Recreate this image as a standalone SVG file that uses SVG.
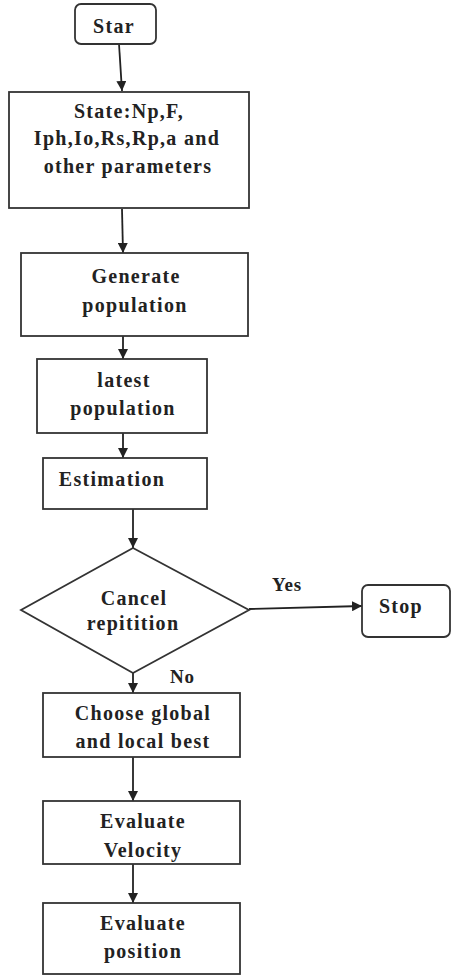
<svg xmlns="http://www.w3.org/2000/svg" width="452" height="976" viewBox="0 0 452 976">
<defs>
<marker id="ah" viewBox="0 0 10 10" refX="10" refY="5" markerWidth="10" markerHeight="10" markerUnits="userSpaceOnUse" orient="auto">
<path d="M0,0 L10,5 L0,10 Z" fill="#222"/>
</marker>
<style>
.b{fill:#fff;stroke:#333;stroke-width:1.8}
.t{font-family:"Liberation Serif","Times New Roman",serif;font-weight:bold;font-size:20px;fill:#222;letter-spacing:1.3px;text-anchor:middle}
.l{font-family:"Liberation Serif","Times New Roman",serif;font-weight:bold;font-size:19px;fill:#222;letter-spacing:0.8px}
.c{fill:none;stroke:#222;stroke-width:1.8;marker-end:url(#ah)}
</style>
</defs>
<rect width="452" height="976" fill="#fff"/>
<g id="connectors">
<line class="c" x1="119" y1="44" x2="122" y2="91"/>
<line class="c" x1="122" y1="209" x2="123" y2="253"/>
<line class="c" x1="123" y1="336" x2="123" y2="359"/>
<line class="c" x1="123" y1="433" x2="123" y2="458"/>
<line class="c" x1="133" y1="509" x2="133" y2="548"/>
<line class="c" x1="249" y1="609" x2="362" y2="606"/>
<line class="c" x1="133" y1="673" x2="133" y2="693"/>
<line class="c" x1="133" y1="757" x2="133" y2="801"/>
<line class="c" x1="133" y1="864" x2="133" y2="903"/>
<text class="l" x="272" y="591">Yes</text>
<text class="l" x="170" y="683">No</text>
</g>
<g id="start">
<rect class="b" x="75" y="4" width="81" height="40" rx="6"/>
<text class="t" x="114" y="33">Star</text>
</g>
<g id="state">
<rect class="b" x="9" y="92" width="240" height="116"/>
<text class="t" x="129" y="118">State:Np,F,</text>
<text class="t" x="127" y="145">Iph,Io,Rs,Rp,a and</text>
<text class="t" x="128" y="173">other parameters</text>
</g>
<g id="generate">
<rect class="b" x="21" y="253" width="227" height="83"/>
<text class="t" x="136" y="283">Generate</text>
<text class="t" x="135" y="312">population</text>
</g>
<g id="latest">
<rect class="b" x="37" y="359" width="170" height="74"/>
<text class="t" x="124" y="387">latest</text>
<text class="t" x="123" y="415">population</text>
</g>
<g id="estimation">
<rect class="b" x="43" y="458" width="164" height="51"/>
<text class="t" x="112" y="486">Estimation</text>
</g>
<g id="decision">
<polygon class="b" points="133,548 249,610 133,673 21,610"/>
<text class="t" x="134" y="605">Cancel</text>
<text class="t" x="133" y="630">repitition</text>
</g>
<g id="stop">
<rect class="b" x="362" y="585" width="88" height="52" rx="6"/>
<text class="t" x="401" y="613">Stop</text>
</g>
<g id="choose">
<rect class="b" x="43" y="693" width="197" height="64"/>
<text class="t" x="143" y="720">Choose global</text>
<text class="t" x="143" y="748">and local best</text>
</g>
<g id="velocity">
<rect class="b" x="43" y="801" width="197" height="63"/>
<text class="t" x="143" y="828">Evaluate</text>
<text class="t" x="143" y="857">Velocity</text>
</g>
<g id="position">
<rect class="b" x="43" y="903" width="197" height="71"/>
<text class="t" x="143" y="930">Evaluate</text>
<text class="t" x="143" y="958">position</text>
</g>
</svg>
